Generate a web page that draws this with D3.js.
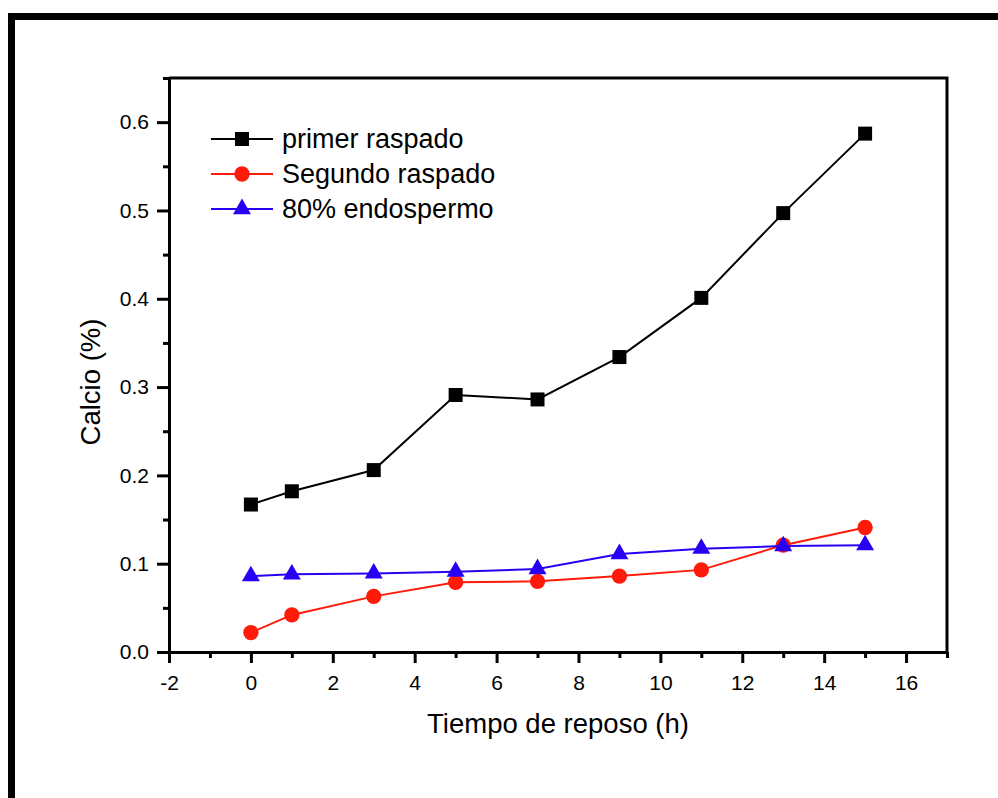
<!DOCTYPE html>
<html>
<head>
<meta charset="utf-8">
<script src="https://cdn.jsdelivr.net/npm/d3@7"></script>
<style>
  body { margin: 0; background: #fff; }
  svg text { font-family: Arial, "Liberation Sans", sans-serif; fill: #000; }
  .axis path, .axis line { stroke: #000; stroke-width: 3; }
  .axis text { font-size: 21px; }
</style>
</head>
<body>
<div id="chart"></div>
<script>
// Calcio vs tiempo de reposo
const hours = [0, 1, 3, 5, 7, 9, 11, 13, 15];
const primer = [0.167, 0.182, 0.206, 0.291, 0.286, 0.334, 0.401, 0.497, 0.587];
const segundo = [0.022, 0.042, 0.063, 0.079, 0.080, 0.086, 0.093, 0.121, 0.141];
const endosp = [0.086, 0.088, 0.089, 0.091, 0.094, 0.111, 0.117, 0.120, 0.121];
const seriesNames = ["primer raspado", "Segundo raspado", "80% endospermo"];
const xTicks = [-2, 0, 2, 4, 6, 8, 10, 12, 14, 16];
const yTicks = [0, 0.1, 0.2, 0.3, 0.4, 0.5, 0.6];

const width = 998, height = 798,
    margin = ({ top: 78, right: 51, bottom: 146, left: 169 });

const svg = d3.select("#chart")
    .append("svg")
    .attr("width", width)
    .attr("height", height);

// outer frame (runs off the right and bottom edges)
svg.append("rect")
    .attr("x", 11.5).attr("y", 16.5)
    .attr("width", 1100).attr("height", 1000)
    .attr("fill", "none")
    .attr("stroke", "#000")
    .attr("stroke-width", 7);

let x = d3.scaleLinear()
    .domain([-2, 17])
    .range([margin.left, width - margin.right]);

let y = d3.scaleLinear()
    .domain([0, 0.65])
    .range([height - margin.bottom, margin.top]);

// top and right frame of the plot
svg.append("path")
    .attr("d", `M${x(-2)},${y(0.65)}H${x(17)}V${y(0)}`)
    .attr("fill", "none")
    .attr("stroke", "#000")
    .attr("stroke-width", 3);

// minor ticks
svg.append("g")
    .attr("class", "axis")
    .attr("transform", `translate(0,${y(0)})`)
    .call(d3.axisBottom(x).tickValues([-1, 1, 3, 5, 7, 9, 11, 13, 15, 17]).tickFormat("").tickSize(6).tickSizeOuter(0))
    .select(".domain").remove();

svg.append("g")
    .attr("class", "axis")
    .attr("transform", `translate(${x(-2)},0)`)
    .call(d3.axisLeft(y).tickValues([0.05, 0.15, 0.25, 0.35, 0.45, 0.55, 0.65]).tickFormat("").tickSize(6).tickSizeOuter(0))
    .select(".domain").remove();

// major axes
svg.append("g")
    .attr("class", "axis")
    .attr("transform", `translate(0,${y(0)})`)
    .call(d3.axisBottom(x).tickValues(xTicks).tickFormat(d => String(d)).tickSize(11).tickPadding(12).tickSizeOuter(0));

svg.append("g")
    .attr("class", "axis")
    .attr("transform", `translate(${x(-2)},0)`)
    .call(d3.axisLeft(y).tickValues(yTicks).tickFormat(d3.format(".1f")).tickSize(12).tickPadding(8).tickSizeOuter(0));

svg.append("text")
    .attr("text-anchor", "middle")
    .attr("x", (x(-2) + x(17)) / 2)
    .attr("y", 733)
    .style("font-size", "27.5px")
    .text("Tiempo de reposo (h)");

svg.append("text")
    .attr("text-anchor", "middle")
    .attr("transform", `translate(100,382) rotate(-90)`)
    .style("font-size", "27.5px")
    .text("Calcio (%)");

const series = [
    { name: seriesNames[0], values: primer, color: "#000000", symbol: d3.symbolSquare, size: 196 },
    { name: seriesNames[1], values: segundo, color: "#ff1a0a", symbol: d3.symbolCircle, size: 185 },
    { name: seriesNames[2], values: endosp, color: "#2a00f5", symbol: d3.symbolTriangle, size: 140 }
];

let line = d3.line()
    .x(d => x(d[0]))
    .y(d => y(d[1]));

for (let s of series) {
    let pts = hours.map((h, i) => [h, s.values[i]]);
    svg.append("path")
        .datum(pts)
        .attr("d", line)
        .attr("fill", "none")
        .attr("stroke", s.color)
        .attr("stroke-width", 2);
    svg.append("g").selectAll("path")
        .data(pts)
        .join("path")
        .attr("transform", d => `translate(${x(d[0])},${y(d[1])})`)
        .attr("d", d3.symbol(s.symbol, s.size))
        .attr("fill", s.color);
}

// legend
const legend = svg.append("g").attr("transform", "translate(211,139)");
series.forEach((s, i) => {
    let g = legend.append("g").attr("transform", `translate(0,${i * 35})`);
    g.append("line")
        .attr("x1", 0).attr("x2", 62)
        .attr("stroke", s.color).attr("stroke-width", 2);
    g.append("path")
        .attr("transform", "translate(31,0)")
        .attr("d", d3.symbol(s.symbol, s.size))
        .attr("fill", s.color);
    g.append("text")
        .attr("x", 71)
        .attr("dy", "0.35em")
        .style("font-size", "27px")
        .text(s.name);
});
</script>
</body>
</html>
